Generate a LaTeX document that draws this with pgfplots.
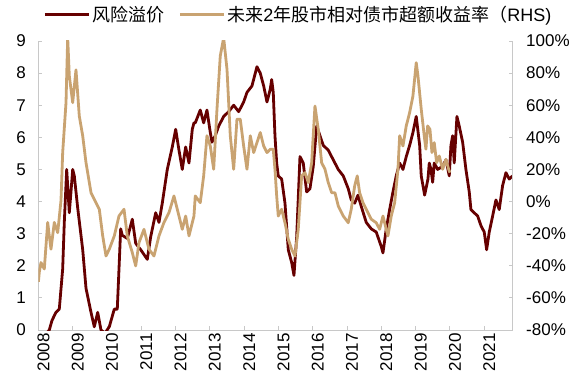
\documentclass[border=0pt]{standalone}
\usepackage{pgfplots}
\pgfplotsset{compat=1.18}
\usepackage{fontspec}
\setmainfont{Liberation Sans}
\newfontfamily\cjk{Noto Sans CJK SC}
\definecolor{darkred}{RGB}{102,0,0}
\definecolor{tan}{RGB}{201,163,113}
\definecolor{axgray}{RGB}{200,200,200}
\begin{document}
\begin{tikzpicture}
\path[use as bounding box] (-38.4bp,-58bp) rectangle (538.6bp,330bp);
\begin{axis}[
  scale only axis, width=474.3bp, height=289bp,
  xmin=2008, xmax=2021.83, ymin=0, ymax=9,
  axis y line*=left, axis x line*=bottom,
  xtick={2008,2009,2010,2011,2012,2013,2014,2015,2016,2017,2018,2019,2020,2021},
  xticklabels={2008,2009,2010,2011,2012,2013,2014,2015,2016,2017,2018,2019,2020,2021},
  ytick={0,1,2,3,4,5,6,7,8,9},
  yticklabels={0,1,2,3,4,5,6,7,8,9},
  tick align=inside, major tick length=4bp,
  axis line style={draw=axgray, line width=0.9pt, -},
  tick style={draw=axgray, line width=0.9pt},
  every tick label/.append style={font=\fontsize{17bp}{20bp}\selectfont},
  x tick label style={rotate=90, anchor=east, yshift=-5bp},
  y tick label style={xshift=-9bp},
  clip=true,
]
\addplot[darkred, line width=2.8bp, line join=round] coordinates {
(2008.163,-0.2) (2008.318,0.0) (2008.397,0.3) (2008.513,0.55) (2008.609,0.65)
(2008.708,1.9) (2008.755,3.35) (2008.825,5.0) (2008.901,3.65) (2008.950,4.3)
(2009.000,5.0) (2009.047,4.8) (2009.146,3.8) (2009.292,2.5) (2009.388,1.3)
(2009.534,0.55) (2009.630,0.1) (2009.729,0.55) (2009.825,0.0) (2009.942,-0.1)
(2010.067,0.1) (2010.213,0.65) (2010.300,0.65) (2010.350,1.9) (2010.399,3.15)
(2010.446,2.95) (2010.592,2.85) (2010.738,3.45) (2010.837,2.7) (2010.983,2.5)
(2011.175,2.2) (2011.274,2.9) (2011.420,3.65) (2011.516,3.35) (2011.612,3.95)
(2011.758,5.0) (2011.904,5.7) (2012.003,6.25) (2012.099,5.6) (2012.195,5.0)
(2012.294,5.7) (2012.391,5.2) (2012.487,6.25) (2012.536,6.45) (2012.574,6.45)
(2012.720,6.85) (2012.819,6.45) (2012.915,6.85) (2013.012,6.15) (2013.061,5.85)
(2013.157,6.05) (2013.257,6.35) (2013.402,6.65) (2013.548,6.8) (2013.694,7.0)
(2013.840,6.8) (2013.985,7.1) (2014.082,7.4) (2014.227,7.6) (2014.373,8.2)
(2014.469,8.0) (2014.569,7.6) (2014.665,7.1) (2014.761,7.5) (2014.802,7.8)
(2014.848,7.4) (2014.898,6.05) (2014.948,5.2) (2014.994,4.8) (2015.093,4.7)
(2015.190,3.95) (2015.286,2.5) (2015.385,2.1) (2015.452,1.7) (2015.531,2.9)
(2015.627,5.4) (2015.723,5.2) (2015.822,4.3) (2015.918,4.4) (2016.015,5.1)
(2016.114,6.35) (2016.210,6.05) (2016.306,5.75) (2016.452,5.6) (2016.598,5.3)
(2016.743,5.0) (2016.889,4.8) (2017.035,4.4) (2017.122,4.05) (2017.222,3.95)
(2017.318,4.2) (2017.414,3.85) (2017.560,3.35) (2017.706,3.15) (2017.851,3.05)
(2017.997,2.6) (2018.047,2.4) (2018.143,3.15) (2018.242,3.75) (2018.338,4.3)
(2018.434,4.8) (2018.534,5.2) (2018.630,5.0) (2018.726,5.4) (2018.825,5.75)
(2018.921,6.15) (2019.017,6.65) (2019.117,5.75) (2019.163,4.8) (2019.262,4.2)
(2019.359,4.7) (2019.397,5.2) (2019.446,5.0) (2019.496,4.6) (2019.542,5.2)
(2019.641,5.0) (2019.787,5.1) (2019.883,5.3) (2019.980,4.8) (2020.029,5.75)
(2020.079,6.05) (2020.125,5.2) (2020.204,6.65) (2020.271,6.35) (2020.370,5.85)
(2020.466,5.0) (2020.563,4.3) (2020.612,3.75) (2020.708,3.65) (2020.808,3.55)
(2020.904,3.25) (2021.000,3.05) (2021.070,2.5) (2021.146,3.05) (2021.245,3.55)
(2021.341,4.05) (2021.437,3.75) (2021.536,4.5) (2021.633,4.9) (2021.729,4.7)
(2021.828,4.8)
};
\end{axis}
\begin{axis}[
  scale only axis, width=474.3bp, height=289bp,
  xmin=2008, xmax=2021.83, ymin=-80, ymax=100,
  axis y line*=right, axis x line=none,
  ytick={-80,-60,-40,-20,0,20,40,60,80,100},
  yticklabels={-80\%,-60\%,-40\%,-20\%,0\%,20\%,40\%,60\%,80\%,100\%},
  tick align=inside, major tick length=4bp,
  axis line style={draw=axgray, line width=0.9pt, -},
  tick style={draw=axgray, line width=0.9pt},
  every tick label/.append style={font=\fontsize{17bp}{20bp}\selectfont},
  y tick label style={xshift=10bp},
  clip=true,
  legend style={at={(0.548,1.09)}, anchor=center, draw=none, fill=none,
    legend columns=2, inner sep=0pt,
    /tikz/every even column/.append style={column sep=12bp},
    font=\fontsize{18bp}{21bp}\selectfont},
  legend image code/.code={\draw[#1, line width=3bp] (0bp,0bp) -- (44bp,0bp);},
]
\addlegendimage{darkred, line width=2.8bp}
\addlegendentry{{\cjk 风险溢价}}
\addplot[tan, line width=2.8bp, line join=round] coordinates {
(2008.000,-50) (2008.026,-44) (2008.076,-38) (2008.172,-42) (2008.271,-13)
(2008.318,-21.4) (2008.367,-29.7) (2008.464,-13) (2008.563,-19.4) (2008.659,0.7)
(2008.708,30.5) (2008.805,61.6) (2008.854,102) (2008.901,78.3) (2009.000,61.6)
(2009.096,82) (2009.192,53.3) (2009.292,40.9) (2009.388,24.2) (2009.534,5.5)
(2009.679,-0.7) (2009.776,-4.8) (2009.875,-21.4) (2009.971,-33.9) (2010.067,-29.7)
(2010.213,-21.4) (2010.350,-9) (2010.496,-4.8) (2010.592,-21.4) (2010.738,-31.8)
(2010.837,-40.1) (2010.933,-25.6) (2011.079,-17.3) (2011.224,-29.7) (2011.370,-33.9)
(2011.516,-21.4) (2011.662,-13) (2011.808,-6.9) (2011.953,3.5) (2012.099,-9)
(2012.195,-17.3) (2012.294,-9) (2012.391,-21.4) (2012.536,-9) (2012.574,3.5)
(2012.720,-0.7) (2012.819,16) (2012.915,41) (2013.012,34.6) (2013.111,20.1)
(2013.207,57.5) (2013.303,90.7) (2013.402,102) (2013.499,82.4) (2013.548,61.6)
(2013.595,41) (2013.694,20.1) (2013.790,51.3) (2013.886,51.3) (2013.985,34.6)
(2014.082,20.1) (2014.178,41) (2014.277,30.5) (2014.373,36.7) (2014.469,43)
(2014.569,34.6) (2014.665,30.5) (2014.761,32.6) (2014.848,32.6) (2014.898,20.1)
(2014.948,3.5) (2014.994,-9) (2015.093,-4.8) (2015.190,-13.2) (2015.286,-23.5)
(2015.385,-29.7) (2015.481,-33.9) (2015.577,-17.3) (2015.676,16) (2015.773,18)
(2015.869,11.8) (2015.968,24.2) (2016.064,59.5) (2016.160,45) (2016.259,24.2)
(2016.356,20.1) (2016.452,11.8) (2016.551,5.5) (2016.647,5.5) (2016.743,-2.7)
(2016.889,-9) (2017.035,-13.2) (2017.122,-4.8) (2017.222,9.7) (2017.297,16)
(2017.367,5.5) (2017.463,-0.7) (2017.560,-4.8) (2017.706,-11) (2017.851,-13.2)
(2017.950,-17.3) (2018.047,-9) (2018.143,-17.3) (2018.192,-21.4) (2018.289,-9)
(2018.388,-0.7) (2018.484,20.1) (2018.534,41) (2018.630,34.6) (2018.726,47.1)
(2018.825,55.4) (2018.921,65.8) (2019.017,86.5) (2019.067,78.3) (2019.163,57.5)
(2019.262,38.8) (2019.300,32.6) (2019.350,47.1) (2019.417,45) (2019.475,30.5)
(2019.542,36.7) (2019.612,24.2) (2019.688,28.4) (2019.787,20.1) (2019.883,26.3)
(2019.962,20.1) (2020.000,18)
};
\addlegendentry{{\cjk 未来}2{\cjk 年股市相对债市超额收益率（}RHS)}
\end{axis}
\end{tikzpicture}
\end{document}
